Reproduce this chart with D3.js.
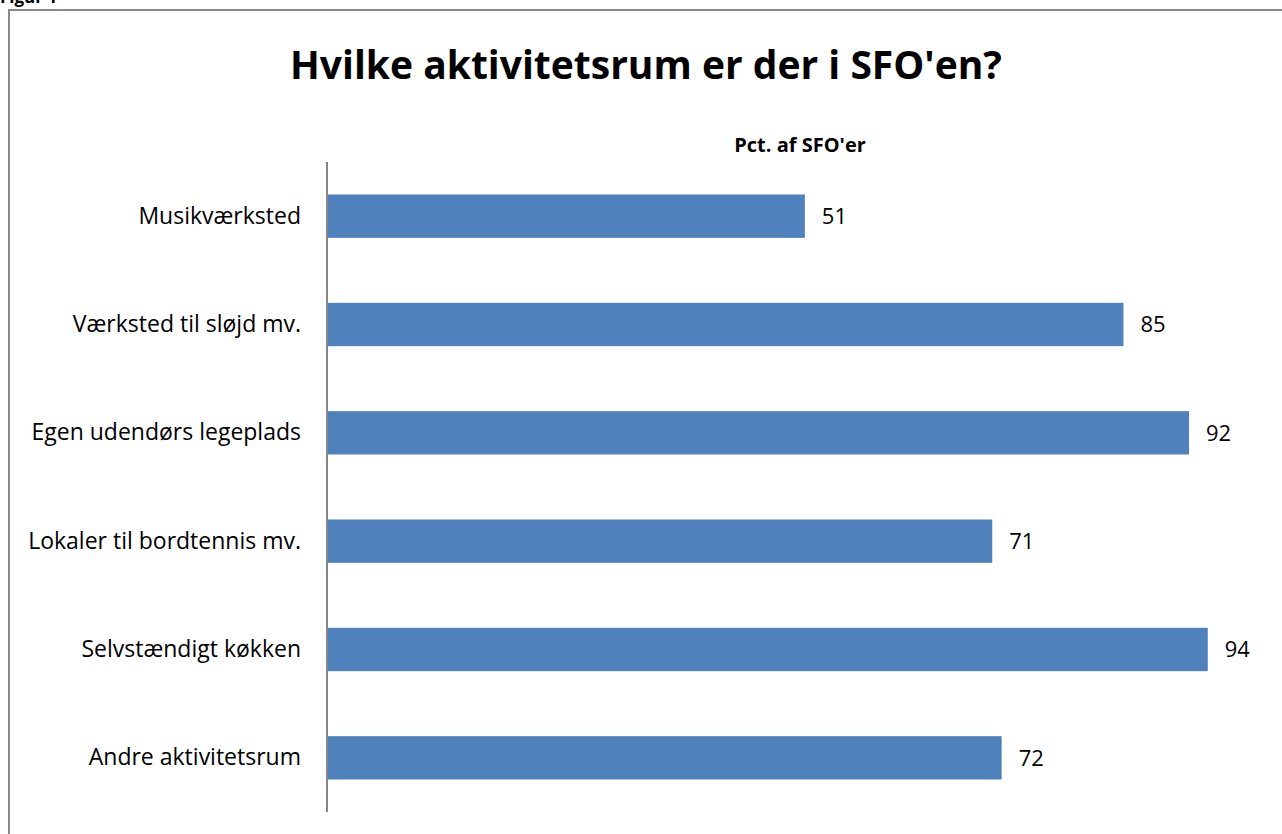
<!DOCTYPE html>
<html>
<head>
<meta charset="utf-8">
<script src="https://cdn.jsdelivr.net/npm/d3@7"></script>
<style>
  body { margin: 0; background: #fff; }
  text { font-family: "Open Sans", Lato, sans-serif; fill: #000; }
</style>
</head>
<body>
<script>
(function(){

//chart data
var categories = ["Musikværksted",
                  "Værksted til sløjd mv.",
                  "Egen udendørs legeplads",
                  "Lokaler til bordtennis mv.",
                  "Selvstændigt køkken",
                  "Andre aktivitetsrum"];
var values = [51, 85, 92, 71, 94, 72];
var chartTitleText = "Hvilke aktivitetsrum er der i SFO'en?";
var axisTitleText = "Pct. af SFO'er";
var figLabel = "Figur 1";

var width = 1282,
    height = 834,
    axisX = 327,
    plotTop = 162,
    plotBottom = 812;

var svg = d3.select("body")
    .append("svg")
    .attr("width", width)
    .attr("height", height);

//figure label, mostly cut off at top like the source
svg.append("text")
    .attr("x", 0)
    .attr("y", 3)
    .style("font-size", "17px")
    .style("font-weight", "bold")
    .text(figLabel);

//outer frame (runs off the right and bottom)
svg.append("rect")
    .attr("x", 9)
    .attr("y", 10)
    .attr("width", 1300)
    .attr("height", 900)
    .attr("fill", "none")
    .attr("stroke", "#898989")
    .attr("stroke-width", 2);

//scales
var xScale = d3.scaleLinear()
    .domain([0, 100])
    .range([axisX, axisX + 937]);

var yScale = d3.scaleBand()
    .domain(categories)
    .range([plotTop, plotBottom])
    .paddingInner(0.6)
    .paddingOuter(0.3);

//titles
svg.append("text")
    .attr("x", 646)
    .attr("y", 79)
    .attr("text-anchor", "middle")
    .style("font-size", "39px")
    .style("font-weight", "bold")
    .text(chartTitleText);

svg.append("text")
    .attr("x", 800)
    .attr("y", 152)
    .attr("text-anchor", "middle")
    .style("font-size", "20px")
    .style("font-weight", "bold")
    .text(axisTitleText);

//bars
svg.selectAll(".bar")
    .data(values)
    .enter()
    .append("rect")
    .attr("class", "bar")
    .attr("x", xScale(0))
    .attr("y", function(d, i){ return yScale(categories[i]); })
    .attr("width", function(d){ return xScale(d) - xScale(0); })
    .attr("height", yScale.bandwidth())
    .attr("fill", "#4f81bd");

//value labels
svg.selectAll(".val")
    .data(values)
    .enter()
    .append("text")
    .attr("class", "val")
    .attr("x", function(d){ return xScale(d) + 17; })
    .attr("y", function(d, i){ return yScale(categories[i]) + yScale.bandwidth() / 2; })
    .attr("dy", "0.36em")
    .style("font-size", "22px")
    .text(function(d){ return d; });

//category axis
var yAxis = d3.axisLeft(yScale)
    .tickSize(0)
    .tickPadding(26);

var axis = svg.append("g")
    .attr("class", "axis")
    .attr("transform", "translate(" + axisX + ",0)")
    .call(yAxis);

axis.select(".domain")
    .attr("stroke", "#868686")
    .attr("stroke-width", 2)
    .attr("d", "M0," + plotTop + "V" + plotBottom);

axis.selectAll(".tick text")
    .style("font-size", "23px")
    .style("font-family", "'Open Sans', Lato, sans-serif")
    .attr("fill", "#000");

})();
</script>
</body>
</html>
